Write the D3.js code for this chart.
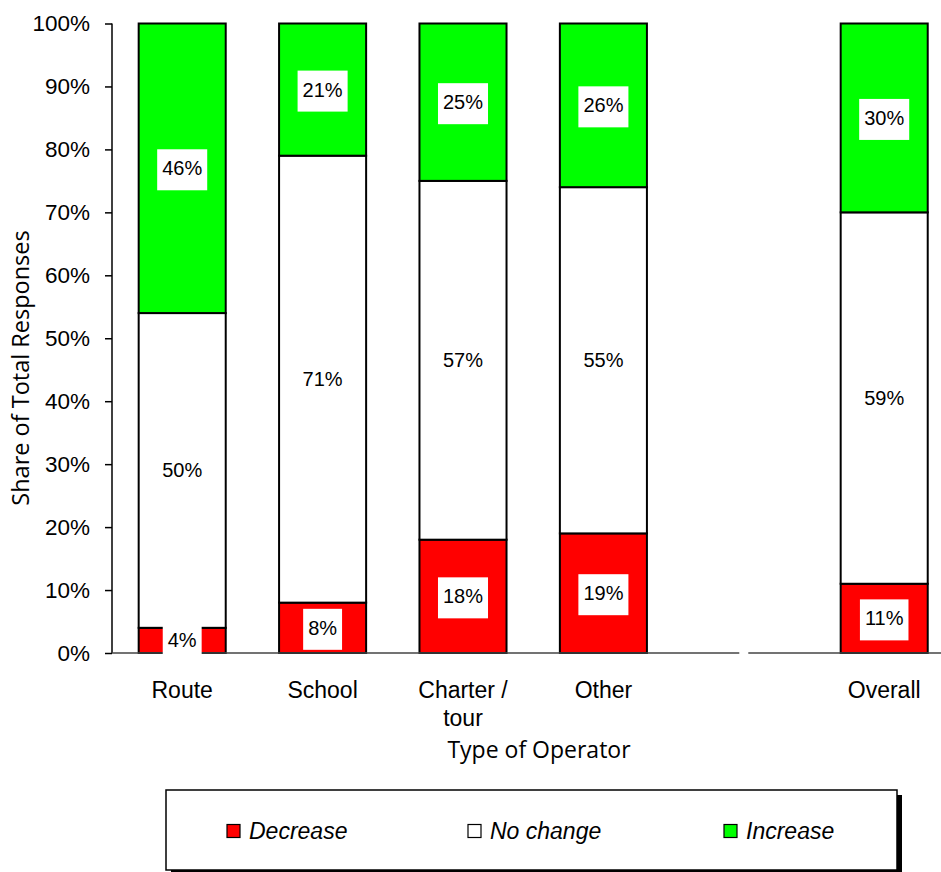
<!DOCTYPE html>
<html>
<head>
<meta charset="utf-8">
<script src="https://cdn.jsdelivr.net/npm/d3@7"></script>
<style>
  html, body { margin: 0; padding: 0; background: #fff; }
  svg { display: block; }
</style>
</head>
<body>
<svg id="chart" width="941" height="872"></svg>
<script>
// Operator types and share of responses (percent) per outcome
const categories = ["Route", "School", "Charter / tour", "Other", "Overall"];
const decrease = [4, 8, 18, 19, 11];
const noChange = [50, 71, 57, 55, 59];
const increase = [46, 21, 25, 26, 30];
const seriesNames = ["Decrease", "No change", "Increase"];
const seriesColors = ["#ff0000", "#ffffff", "#00ff00"];
const yTicks = [0, 10, 20, 30, 40, 50, 60, 70, 80, 90, 100];

// Slot layout: the four operator types, an empty spacer, then the overall bar
const spacer = "__spacer__";
const slots = [...categories.slice(0, 4), spacer, categories[4]];

const svg = d3.select("#chart");
const plotLeft = 112, plotTop = 23.5, plotBottom = 653;

const x = d3.scaleBand().domain(slots).range([plotLeft, plotLeft + 6 * 140.4]).paddingInner(0.38).paddingOuter(0.19);
const y = d3.scaleLinear().domain([0, 100]).range([plotBottom, plotTop]);

const rows = categories.map((c, i) => ({ cat: c, Decrease: decrease[i], "No change": noChange[i], Increase: increase[i] }));
const stack = d3.stack().keys(seriesNames)(rows);

const font = "'Liberation Sans', Arial, sans-serif";
const titleFont = "'Open Sans', Lato, sans-serif";

// Stacked bars
const layers = svg.append("g").selectAll("g").data(stack).join("g")
  .attr("fill", (d, i) => seriesColors[i]);
layers.selectAll("rect").data(d => d).join("rect")
  .attr("x", d => x(d.data.cat))
  .attr("width", x.bandwidth())
  .attr("y", d => y(d[1]))
  .attr("height", d => y(d[0]) - y(d[1]))
  .attr("stroke", "#000")
  .attr("stroke-width", 2);

// Y axis
const yAxis = svg.append("g").attr("transform", `translate(${plotLeft},0)`)
  .call(d3.axisLeft(y).tickValues(yTicks).tickFormat(d => d + "%").tickSize(7).tickPadding(15));
yAxis.select(".domain").attr("stroke", "#000").attr("stroke-width", 1.5).attr("d", `M0,${plotTop}V${plotBottom}`);
yAxis.selectAll(".tick line").attr("stroke", "#000").attr("stroke-width", 1.5);
yAxis.selectAll(".tick text").attr("font-family", font).attr("font-size", 22.5).attr("fill", "#000");

// Baseline, broken between the operator group and the overall bar
const gapMid = x(spacer) + x.bandwidth() / 2;
svg.append("g").selectAll("line")
  .data([[plotLeft, gapMid - 4.5], [gapMid + 4.5, 960]])
  .join("line")
  .attr("x1", d => d[0]).attr("x2", d => d[1])
  .attr("y1", plotBottom).attr("y2", plotBottom)
  .attr("stroke", "#444").attr("stroke-width", 1.5);

// Category labels (wrapped when wider than the slot)
const xAxis = svg.append("g").attr("transform", `translate(0,${plotBottom})`)
  .call(d3.axisBottom(x).tickValues(categories).tickSize(0).tickPadding(0));
xAxis.select(".domain").remove();
xAxis.selectAll(".tick text")
  .attr("font-family", font).attr("font-size", 23).attr("fill", "#000")
  .attr("y", 0).attr("dy", null)
  .each(function (d) {
    const t = d3.select(this);
    const words = d.split(" ");
    t.text(null);
    const maxW = x.step() * 0.85;
    let line = [], lines = [];
    const probe = t.append("tspan");
    words.forEach(w => {
      const test = line.concat(w).join(" ");
      probe.text(test);
      if (probe.node().getComputedTextLength() > maxW && line.length) {
        lines.push(line.join(" "));
        line = [w];
      } else line = line.concat(w);
    });
    lines.push(line.join(" "));
    probe.remove();
    lines.forEach((l, i) => t.append("tspan").attr("x", 0).attr("y", 45 + i * 28).text(l));
  });

// Axis titles
svg.append("text")
  .attr("x", 539).attr("y", 758)
  .attr("text-anchor", "middle")
  .attr("font-family", titleFont).attr("font-size", 23).attr("fill", "#000")
  .text("Type of Operator");
svg.append("text")
  .attr("transform", "translate(29,368) rotate(-90)")
  .attr("text-anchor", "middle")
  .attr("font-family", titleFont).attr("font-size", 23.5).attr("fill", "#000")
  .text("Share of Total Responses");

// Value labels on white boxes
const labels = svg.append("g");
stack.forEach((layer, si) => {
  layer.forEach(d => {
    const v = d[1] - d[0];
    const cx = x(d.data.cat) + x.bandwidth() / 2;
    const cy = y((d[0] + d[1]) / 2);
    const g = labels.append("g").attr("transform", `translate(${cx},${cy})`);
    const txt = g.append("text")
      .attr("text-anchor", "middle").attr("dy", "0.35em")
      .attr("font-family", font).attr("font-size", 20).attr("fill", "#000")
      .text(v + "%");
    const w = txt.node().getComputedTextLength();
    g.insert("rect", "text")
      .attr("x", -w / 2 - 5).attr("y", -19).attr("width", w + 10).attr("height", 41)
      .attr("fill", "#fff");
  });
});

// Legend with drop shadow
const lg = svg.append("g");
lg.append("rect").attr("x", 171).attr("y", 795).attr("width", 731).attr("height", 80).attr("fill", "#000");
lg.append("rect").attr("x", 166).attr("y", 790).attr("width", 731).attr("height", 80)
  .attr("fill", "#fff").attr("stroke", "#000").attr("stroke-width", 1.5);
const legendX = [227, 468, 724];
seriesNames.forEach((name, i) => {
  lg.append("rect").attr("x", legendX[i]).attr("y", 824.5).attr("width", 13).attr("height", 13)
    .attr("fill", seriesColors[i]).attr("stroke", "#000").attr("stroke-width", 1.2);
  lg.append("text").attr("x", legendX[i] + 22).attr("y", 839)
    .attr("font-family", font).attr("font-style", "italic").attr("font-size", 23).attr("fill", "#000")
    .text(name);
});
</script>
</body>
</html>
